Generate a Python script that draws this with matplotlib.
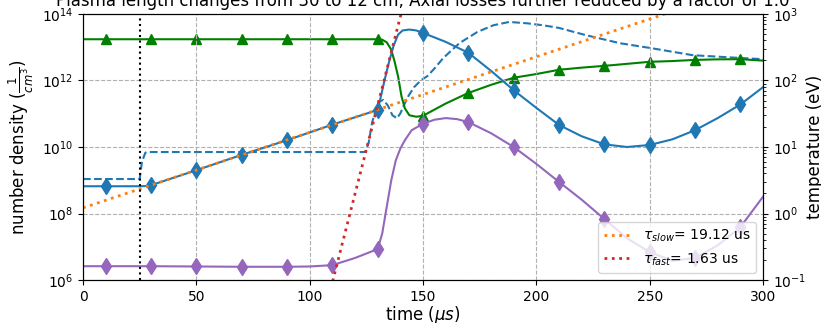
import numpy as np
import matplotlib.pyplot as plt
from matplotlib.ticker import NullLocator

# time axis in microseconds, markers every 20 us starting at 10 us
marker_times = [10, 30, 50, 70, 90, 110, 130, 150, 170, 190, 210, 230, 250, 270, 290]

# electron density (cm^-3), left axis
t_ne = [0, 10, 20, 25, 28, 30, 50, 70, 90, 110, 130, 131, 133, 135, 137, 139, 141, 144, 147,
        150, 160, 170, 180, 190, 200, 210, 220, 230, 240, 250, 260, 270, 280, 290, 300]
ne = [6.6e8, 6.6e8, 6.6e8, 6.6e8, 6.7e8, 7.1e8, 2.0e9, 5.8e9, 1.6e10, 4.7e10, 1.3e11, 2.5e11,
      1.0e12, 3.6e12, 1.1e13, 2.4e13, 3.2e13, 3.4e13, 3.2e13,
      2.7e13, 1.45e13, 6.8e12, 1.95e12, 5.1e11, 1.5e11, 4.6e10, 2.1e10, 1.2e10, 1.0e10, 1.15e10,
      1.7e10, 3.2e10, 7.4e10, 1.9e11, 6.3e11]

# electron temperature (eV), right axis
t_te = [0, 25, 26, 27.5, 28.5, 124.5, 126, 127.5, 129, 130.5, 132.5, 134.5, 136.5, 138.5, 140,
        141.5, 143.5, 146, 149, 152, 155, 159, 166, 174, 181, 188, 196, 203, 210, 222, 237,
        250, 269, 289, 300]
te = [3.3, 3.3, 6.0, 8.2, 8.4, 8.4, 11.5, 23, 35, 48, 51, 42, 30, 27, 32,
      42, 58, 79, 100, 117, 151, 219, 363, 537, 676, 759, 724, 676, 617, 479, 363,
      309, 240, 219, 209]

# ion temperature (eV), right axis
t_ti = [0, 10, 30, 50, 70, 90, 110, 130, 132, 134, 136, 137.5, 139, 140.5, 142, 144, 147,
        150, 160, 170, 180, 190, 200, 210, 220, 230, 240, 250, 260, 270, 280, 290, 300]
ti = [417, 417, 417, 417, 417, 417, 417, 417, 410, 375, 290, 190, 115, 58, 38, 30, 28.5,
      29.5, 45, 65, 86, 110, 125, 145, 156, 166, 178, 191, 196, 204, 208, 209, 199]

# ion density (cm^-3), left axis
t_ni = [0, 10, 30, 50, 70, 90, 100, 110, 120, 130, 132, 134, 136, 138, 140, 142, 145, 150,
        155, 160, 165, 170, 180, 190, 200, 210, 220, 230, 240, 250, 260, 270, 280, 290, 300]
ni = [2.6e6, 2.6e6, 2.6e6, 2.55e6, 2.5e6, 2.5e6, 2.55e6, 2.8e6, 4.6e6, 8.5e6, 2.5e7, 1.6e8,
      1.0e9, 4.0e9, 9.0e9, 1.6e10, 3.2e10, 5.0e10,
      6.6e10, 7.4e10, 6.9e10, 5.6e10, 2.6e10, 1.0e10, 3.1e9, 8.9e8, 2.6e8, 6.8e7, 1.8e7, 6.9e6,
      3.8e6, 4.6e6, 1.1e7, 3.9e7, 3.2e8]

# exponential growth fits of the density
tau_slow = 19.12
slow_n0 = 1.48e8      # value of the slow fit at t = 0
tau_fast = 1.63
fast_t0 = 130.0
fast_n0 = 1.8e11      # value of the fast fit at t = fast_t0

t_start_heating = 25
density_ticks = [1e6, 1e8, 1e10, 1e12, 1e14]
titulo = 'Plasma length changes from 30 to 12 cm, Axial losses further reduced by a factor of 1.0'


def indices_marcadores(tempos):
    """Posições dos pontos que recebem marcador."""
    return [i for i, t in enumerate(tempos) if t in marker_times]


fig = plt.figure(figsize=(8.21, 3.23), dpi=100)
ax1 = fig.add_axes([0.1011, 0.1331, 0.8283, 0.8236])
ax2 = ax1.twinx()

t_fit = np.linspace(0, 300, 601)
n_slow = slow_n0 * np.exp(t_fit / tau_slow)
n_fast = fast_n0 * np.exp((t_fit - fast_t0) / tau_fast)

ax1.plot(t_ne, ne, color='C0', marker='d', markersize=8, markevery=indices_marcadores(t_ne))
ax1.plot(t_ni, ni, color='C4', marker='d', markersize=8, markevery=indices_marcadores(t_ni))
ax1.plot(t_fit, n_slow, color='C1', linestyle=':', linewidth=2,
         label=r'$\tau_{slow}$= %.2f us' % tau_slow)
ax1.plot(t_fit, n_fast, color='C3', linestyle=':', linewidth=2,
         label=r'$\tau_{fast}$= %.2f us' % tau_fast)
ax1.axvline(t_start_heating, color='k', linestyle=':', linewidth=1.5)

ax2.plot(t_te, te, color='C0', linestyle='--')
ax2.plot(t_ti, ti, color='g', marker='^', markersize=7, markevery=indices_marcadores(t_ti))

ax1.set_yscale('log')
ax2.set_yscale('log')
ax1.set_xlim(0, 300)
ax1.set_ylim(1e6, 1e14)
ax1.set_yticks(density_ticks)
ax1.yaxis.set_minor_locator(NullLocator())
ax2.set_ylim(1e-1, 1e3)

ax1.grid(True, linestyle='--')
ax1.set_xlabel(r'time ($\mu s$)', fontsize=12, labelpad=0)
ax1.set_ylabel(r'number density ($\frac{1}{cm^3}$)', fontsize=12)
ax2.set_ylabel('temperature (eV)', fontsize=12, labelpad=0)
ax1.set_title(titulo, fontsize=12)

# legenda acima das curvas do eixo da direita
ax1.set_zorder(ax2.get_zorder() + 1)
ax1.patch.set_visible(False)
ax1.legend(loc='lower right')

plt.savefig('out.png', dpi=100)
